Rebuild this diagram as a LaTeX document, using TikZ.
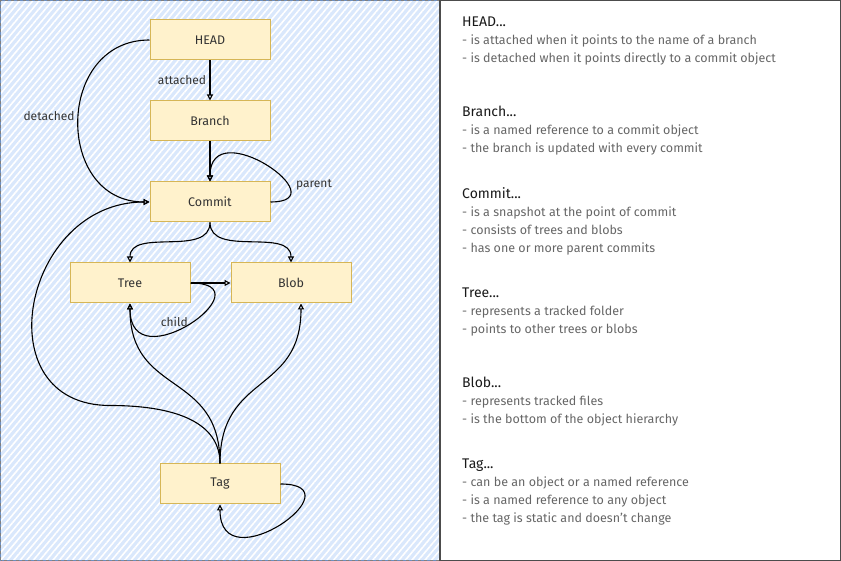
\documentclass[tikz,border=0pt]{standalone}
\usepackage{fontspec}
\setmainfont{Fira Sans}
\usepackage{xcolor}
\usetikzlibrary{arrows.meta, positioning, patterns.meta}

\definecolor{boxfill}{HTML}{FFF2CC}
\definecolor{boxline}{HTML}{D6B656}
\definecolor{panelfill}{HTML}{DAE8FC}
\definecolor{panelline}{HTML}{6C8EBF}
\definecolor{bodygray}{HTML}{666666}
\newcommand{\deschead}[1]{{\color{black!90}\fontsize{14}{18}\selectfont #1}}

\begin{document}
\begin{tikzpicture}[
    x=1pt, y=1pt,
    node distance=40pt,
    obj/.style={rectangle, draw=boxline, fill=boxfill, line width=1pt, minimum width=120pt, minimum height=40pt, font=\fontsize{12.5}{14}\selectfont, text=black!80},
    edge_label/.style={font=\fontsize{12}{14}\selectfont, text=black!80},
    desc/.style={anchor=north west, align=left, inner sep=0pt, font=\fontsize{12.5}{18}\selectfont, text=bodygray},
    arrow/.style={-{Triangle[open, length=6pt, width=6pt]}, line width=1.1pt}
  ]
  \useasboundingbox (0,0) rectangle (841,561);
  % panels
  \fill[panelfill] (0,0) rectangle (440,561);
  \fill[pattern={Lines[angle=50, distance=5pt, line width=1.6pt]}, pattern color=white] (0,0) rectangle (440,561);
  \draw[panelline, line width=1.2pt] (0.6,0.6) rectangle (440,560.4);
  \draw[black!50, dashed, line width=0.6pt] (0.6,0.6) rectangle (440,560.4);
  \draw[black!70, line width=1.2pt] (440,0.6) rectangle (840.4,560.4);

  % objects
  \node[obj] (head) at (210,521) {HEAD};
  \node[obj, below=of head] (branch) {Branch};
  \node[obj, below=of branch] (commit) {Commit};
  \node[obj, below=of commit, xshift=-80pt] (tree) {Tree};
  \node[obj, right=of tree] (blob) {Blob};
  \node[obj, below=160pt of tree, xshift=90pt] (tag) {Tag};

  % references
  \draw[arrow] (head.south) -- node[edge_label, left] {attached} (branch.north);
  \draw[arrow] (head.west) to[out=180, in=180, looseness=1.5] node[edge_label, left, yshift=5pt] {detached} (commit.west);
  \draw[arrow] (branch.south) -- (commit.north);
  \draw[arrow] (commit.east) to[out=0, in=90, looseness=2.8] node[edge_label, right, pos=0.3, xshift=4pt] {parent} (commit.north);
  \draw[arrow] (commit.south) to[out=-90, in=90] (tree.north);
  \draw[arrow] (commit.south) to[out=-90, in=90] (blob.north);
  \draw[arrow] (tree.east) -- (blob.west);
  \draw[arrow] (tree.east) to[out=0, in=-90, looseness=3.2] node[edge_label, above, pos=0.6] {child} (tree.south);
  \draw[arrow] (tag.north) to[out=90, in=0] ++(-110,58) to[out=180, in=180, looseness=1.57] (commit.west);
  \draw[arrow] (tag.north) to[out=90, in=-90, looseness=1.3] (tree.south);
  \draw[arrow] (tag.north) to[out=90, in=-90, looseness=1.3] ([xshift=10pt]blob.south);
  \draw[arrow] (tag.east) to[out=0, in=-90, looseness=3.2] (tag.south);

  % descriptions
  \node[desc] (head_txt) at (462,544) {\deschead{HEAD...}\\- is attached when it points to the name of a branch\\- is detached when it points directly to a commit object};
  \node[desc] (branch_txt) at (462,455) {\deschead{Branch...}\\- is a named reference to a commit object\\- the branch is updated with every commit};
  \node[desc] (commit_txt) at (462,374) {\deschead{Commit...}\\- is a snapshot at the point of commit\\- consists of trees and blobs\\- has one or more parent commits};
  \node[desc] (tree_txt) at (462,273) {\deschead{Tree...}\\- represents a tracked folder\\- points to other trees or blobs};
  \node[desc] (blob_txt) at (462,184) {\deschead{Blob...}\\- represents tracked files\\- is the bottom of the object hierarchy};
  \node[desc] (tag_txt) at (462,102) {\deschead{Tag...}\\- can be an object or a named reference\\- is a named reference to any object\\- the tag is static and doesn't change};
\end{tikzpicture}
\end{document}
